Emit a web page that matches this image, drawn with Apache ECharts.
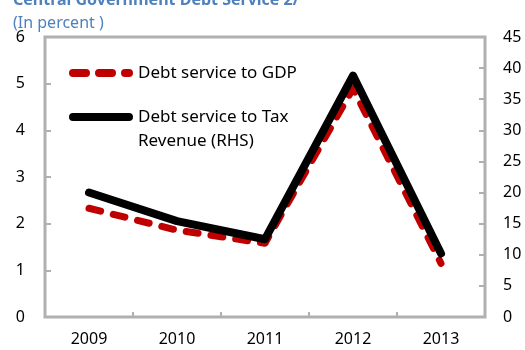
<!DOCTYPE html>
<html>
<head>
<meta charset="utf-8">
<script src="https://cdn.jsdelivr.net/npm/echarts@6/dist/echarts.min.js"></script>
<style>html,body{margin:0;padding:0;background:#fff}#c{width:525px;height:350px}</style>
</head>
<body>
<div id="c"></div>
<script>
const years = ['2009', '2010', '2011', '2012', '2013'];
const debtToGDP = [2.33, 1.86, 1.58, 4.9, 1.15];
const debtToTax = [20.0, 15.4, 12.5, 38.8, 10.2];
const leftTicks = {min: 0, max: 6, interval: 1};
const rightTicks = {min: 0, max: 45, interval: 5};
const seriesNames = ['Debt service to GDP', 'Debt service to Tax\nRevenue (RHS)'];

const FONT = 'Noto Sans';
const gridColor = '#b0b0b0';
// icons live in a 64x32 box (corner points M0,0 / M0,32 fix the box size)
const dashedIcon = 'path://M0,0L0,0ZM0,32L0,32Z' +
  'M4,12L17,12A4,4 0 0 1 17,20L4,20A4,4 0 0 1 4,12Z' +
  'M30,12L43,12A4,4 0 0 1 43,20L30,20A4,4 0 0 1 30,12Z' +
  'M56,12L60,12A4,4 0 0 1 60,20L56,20A4,4 0 0 1 56,12Z';
// pill at the top of the box so it lines up with the first text line
const solidIcon = 'path://M4,0L60,0A4,4 0 0 1 60,8L4,8A4,4 0 0 1 4,0ZM0,32L0,32Z';

const chart = echarts.init(document.getElementById('c'));
chart.setOption({
  animation: false,
  textStyle: {fontFamily: FONT},
  title: [
    {text: 'Central Government Debt Service 2/', left: 8, top: -13,
     textStyle: {fontFamily: FONT, fontSize: 16, fontWeight: 'bold', color: '#4F81BD'}},
    {text: '(In percent )', left: 8, top: 10,
     textStyle: {fontFamily: FONT, fontSize: 16, fontWeight: 'normal', color: '#4F81BD'}}
  ],
  legend: {
    orient: 'vertical', left: 69, top: 57, padding: 0,
    itemWidth: 64, itemHeight: 32, itemGap: 16, symbolKeepAspect: false,
    textStyle: {fontFamily: FONT, fontSize: 17, color: '#000', lineHeight: 24},
    data: [
      {name: seriesNames[0], icon: dashedIcon},
      {name: seriesNames[1], icon: solidIcon}
    ]
  },
  grid: {left: 45, right: 40, top: 37, bottom: 33, show: true, borderColor: gridColor, borderWidth: 3},
  xAxis: {
    type: 'category', data: years, boundaryGap: true,
    axisLine: {show: false},
    axisTick: {show: true, inside: true, length: 5, lineStyle: {color: gridColor, width: 2}},
    axisLabel: {fontFamily: FONT, fontSize: 16, color: '#000', margin: 14}
  },
  yAxis: [
    {type: 'value', min: leftTicks.min, max: leftTicks.max, interval: leftTicks.interval,
     splitLine: {show: false}, axisLine: {show: false},
     axisTick: {show: true, inside: true, length: 6, lineStyle: {color: gridColor, width: 2}},
     axisLabel: {fontFamily: FONT, fontSize: 16, color: '#000', margin: 20}},
    {type: 'value', min: rightTicks.min, max: rightTicks.max, interval: rightTicks.interval,
     splitLine: {show: false}, axisLine: {show: false},
     axisTick: {show: true, inside: true, length: 6, lineStyle: {color: gridColor, width: 2}},
     axisLabel: {fontFamily: FONT, fontSize: 16, color: '#000', margin: 18}}
  ],
  series: [
    {name: seriesNames[1], type: 'line', yAxisIndex: 1, data: debtToTax,
     symbol: 'none', z: 3,
     lineStyle: {color: '#000', width: 8, cap: 'round', join: 'round'}, itemStyle: {color: '#000'}},
    {name: seriesNames[0], type: 'line', yAxisIndex: 0, data: debtToGDP,
     symbol: 'none', z: 2,
     lineStyle: {color: '#C00000', width: 7, type: [12, 13], cap: 'round', join: 'round'}, itemStyle: {color: '#C00000'}}
  ]
});
</script>
</body>
</html>
